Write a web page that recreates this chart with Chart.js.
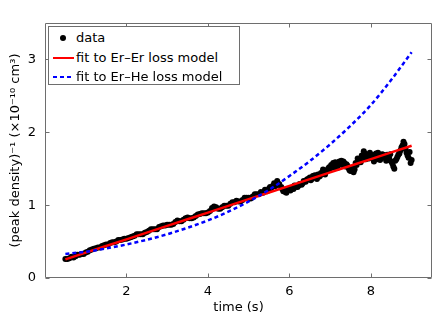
<!DOCTYPE html>
<html>
<head>
<meta charset="utf-8">
<script src="https://cdn.jsdelivr.net/npm/chart.js@4.4.0/dist/chart.umd.min.js"></script>
<style>
  html, body { margin: 0; padding: 0; background: #fff; }
  #wrap { position: relative; width: 436px; height: 315px; }
  #legend {
    position: absolute; left: 48px; top: 26px; width: 190px; height: 57px;
    border: 1px solid #6e6e6e; background: #fff;
    font: 13px "DejaVu Sans", sans-serif; color: #000;
  }
  .row { position: absolute; left: 0; width: 100%; height: 20px; line-height: 20px; }
  .lbl { position: absolute; left: 27px; white-space: nowrap; }
  .sample { position: absolute; left: 4px; width: 21px; top: 9px; height: 2px; }
  .dot { position: absolute; left: 11px; top: 7px; width: 6px; height: 6px; border-radius: 50%; background: #000; }
</style>
</head>
<body>
<div id="wrap">
  <canvas id="chart" width="436" height="315"></canvas>
  <div id="legend">
    <div class="row" style="top:1px"><span class="dot"></span><span class="lbl">data</span></div>
    <div class="row" style="top:21px"><span class="sample" style="background:#ff0000"></span><span class="lbl">fit to Er–Er loss model</span></div>
    <div class="row" style="top:40px"><span class="sample" style="background:repeating-linear-gradient(to right,#0000ff 0 4px,transparent 4px 7px)"></span><span class="lbl">fit to Er–He loss model</span></div>
  </div>
</div>
<script>
// measured points: time (s) and inverse peak density (1e-10 cm^3)
const dataTime = [
  0.50, 0.55, 0.60, 0.65, 0.70, 0.75, 0.80, 0.85, 0.90, 0.95,
  1.00, 1.05, 1.10, 1.15, 1.20, 1.25, 1.30, 1.35, 1.40, 1.45,
  1.50, 1.55, 1.60, 1.65, 1.70, 1.75, 1.80, 1.85, 1.90, 1.95,
  2.00, 2.05, 2.10, 2.15, 2.20, 2.25, 2.30, 2.35, 2.40, 2.45,
  2.50, 2.55, 2.60, 2.65, 2.70, 2.75, 2.80, 2.85, 2.90, 2.95,
  3.00, 3.05, 3.10, 3.15, 3.20, 3.25, 3.30, 3.35, 3.40, 3.45,
  3.50, 3.55, 3.60, 3.65, 3.70, 3.75, 3.80, 3.85, 3.90, 3.95,
  4.00, 4.05, 4.10, 4.15, 4.20, 4.25, 4.30, 4.35, 4.40, 4.45,
  4.50, 4.55, 4.60, 4.65, 4.70, 4.75, 4.80, 4.85, 4.90, 4.95,
  5.00, 5.05, 5.10, 5.15, 5.20, 5.25, 5.30, 5.35, 5.40, 5.45,
  5.50, 5.55, 5.60, 5.65, 5.70, 5.75, 5.80, 5.85, 5.90, 5.95,
  6.00, 6.05, 6.10, 6.15, 6.20, 6.25, 6.30, 6.35, 6.40, 6.45,
  6.50, 6.55, 6.60, 6.65, 6.70, 6.75, 6.80, 6.85, 6.90, 6.95,
  7.00, 7.05, 7.10, 7.15, 7.20, 7.25, 7.30, 7.35, 7.40, 7.45,
  7.50, 7.55, 7.60, 7.65, 7.70, 7.75, 7.80, 7.85, 7.90, 7.95,
  8.00, 8.05, 8.10, 8.15, 8.20, 8.25, 8.30, 8.35, 8.40, 8.45,
  8.50, 8.55, 8.60, 8.65, 8.70, 8.75, 8.80, 8.85, 8.90, 8.95,
  9.00,
  5.525, 5.625, 5.725, 5.825, 5.925, 6.025, 6.125, 6.225, 6.325, 6.425,
  6.525, 6.625, 6.725, 6.825, 6.925, 7.025, 7.125, 7.225, 7.325, 7.425,
  7.525, 7.625, 7.725, 7.825, 7.925, 8.025, 8.125, 8.225, 8.325, 8.425,
  8.525, 8.625, 8.725, 8.825, 8.925,
  6.575, 6.675, 6.775, 6.875, 6.975, 7.075, 7.175, 7.275, 7.375, 7.475,
  7.575, 7.675, 7.775, 7.875, 7.975, 8.075, 8.175, 8.275, 8.375, 8.475,
  8.575, 8.675, 8.775, 8.875, 8.975
];
const dataValue = [
  0.26, 0.26, 0.27, 0.29, 0.28, 0.30, 0.32, 0.32, 0.33, 0.33,
  0.35, 0.36, 0.38, 0.39, 0.40, 0.41, 0.42, 0.42, 0.44, 0.45,
  0.46, 0.46, 0.48, 0.49, 0.49, 0.50, 0.52, 0.52, 0.53, 0.54,
  0.54, 0.55, 0.56, 0.57, 0.58, 0.60, 0.60, 0.60, 0.60, 0.62,
  0.63, 0.65, 0.67, 0.67, 0.67, 0.67, 0.70, 0.71, 0.72, 0.72,
  0.73, 0.73, 0.73, 0.74, 0.77, 0.79, 0.78, 0.78, 0.80, 0.82,
  0.83, 0.82, 0.82, 0.83, 0.85, 0.87, 0.88, 0.89, 0.89, 0.89,
  0.90, 0.92, 0.96, 0.98, 0.97, 0.95, 0.95, 0.97, 0.99, 0.99,
  0.99, 1.02, 1.04, 1.04, 1.06, 1.05, 1.05, 1.07, 1.10, 1.10,
  1.10, 1.09, 1.12, 1.15, 1.15, 1.15, 1.18, 1.17, 1.21, 1.19,
  1.23, 1.23, 1.27, 1.26, 1.33, 1.29, 1.25, 1.19, 1.18, 1.22,
  1.21, 1.24, 1.22, 1.25, 1.25, 1.29, 1.28, 1.33, 1.32, 1.36,
  1.38, 1.36, 1.40, 1.38, 1.42, 1.40, 1.43, 1.47, 1.46, 1.50,
  1.50, 1.53, 1.52, 1.56, 1.55, 1.57, 1.55, 1.58, 1.56, 1.51,
  1.47, 1.51, 1.49, 1.55, 1.61, 1.59, 1.66, 1.71, 1.66, 1.64,
  1.69, 1.64, 1.69, 1.63, 1.68, 1.64, 1.69, 1.65, 1.69, 1.64,
  1.60, 1.53, 1.61, 1.66, 1.71, 1.79, 1.87, 1.77, 1.68, 1.73,
  1.62,
  1.25, 1.30, 1.28, 1.22, 1.17, 1.20, 1.27, 1.27, 1.30, 1.35,
  1.34, 1.41, 1.39, 1.49, 1.48, 1.55, 1.59, 1.60, 1.60, 1.54,
  1.50, 1.58, 1.63, 1.74, 1.69, 1.66, 1.71, 1.62, 1.67, 1.62,
  1.57, 1.63, 1.75, 1.84, 1.65,
  1.40, 1.36, 1.44, 1.42, 1.52, 1.58, 1.51, 1.61, 1.53, 1.48,
  1.45, 1.64, 1.68, 1.63, 1.72, 1.60, 1.72, 1.70, 1.61, 1.70,
  1.50, 1.69, 1.82, 1.72, 1.58
];

// fitted curves
const fitTime = [0.5, 1.0, 1.5, 2.0, 2.5, 3.0, 3.5, 4.0, 4.5, 5.0, 5.5, 6.0, 6.5, 7.0, 7.5, 8.0, 8.5, 9.0];
const erErFit = [0.256, 0.348, 0.439, 0.531, 0.623, 0.715, 0.806, 0.898, 0.990, 1.082, 1.173, 1.265, 1.357, 1.449, 1.540, 1.632, 1.724, 1.816];
const erHeFit = [0.330, 0.360, 0.405, 0.460, 0.525, 0.600, 0.690, 0.790, 0.910, 1.050, 1.210, 1.400, 1.605, 1.835, 2.090, 2.375, 2.720, 3.100];

const xTicks = [2, 4, 6, 8];
const yTicks = [0, 1, 2, 3];

const font = { family: "'DejaVu Sans', sans-serif", size: 13 };

const pts = (xs, ys) => xs.map((x, i) => ({ x: x, y: ys[i] }));

// MATLAB style box with inward tick marks on all four sides
const frame = {
  id: 'frame',
  afterDatasetsDraw(chart) {
    const { ctx, chartArea: a, scales: { x, y } } = chart;
    const l = Math.round(a.left) + 0.5, r = Math.round(a.right) - 0.5;
    const t = Math.round(a.top) + 0.5, b = Math.round(a.bottom) - 0.5;
    const len = 4;
    ctx.save();
    ctx.strokeStyle = '#6e6e6e';
    ctx.lineWidth = 1;
    ctx.beginPath();
    ctx.rect(l, t, r - l, b - t);
    xTicks.forEach(v => {
      const px = Math.round(x.getPixelForValue(v)) + 0.5;
      ctx.moveTo(px, b); ctx.lineTo(px, b - len);
      ctx.moveTo(px, t); ctx.lineTo(px, t + len);
    });
    yTicks.forEach(v => {
      const py = Math.round(y.getPixelForValue(v)) + 0.5;
      ctx.moveTo(l, py); ctx.lineTo(l + len, py);
      ctx.moveTo(r, py); ctx.lineTo(r - len, py);
    });
    ctx.stroke();
    ctx.restore();
  }
};

new Chart(document.getElementById('chart'), {
  type: 'scatter',
  data: {
    datasets: [
      {
        label: 'data',
        data: pts(dataTime, dataValue),
        backgroundColor: '#000',
        borderColor: '#000',
        pointRadius: 3,
        pointBorderWidth: 0,
        order: 3
      },
      {
        label: 'fit to Er–Er loss model',
        data: pts(fitTime, erErFit),
        showLine: true,
        borderColor: '#ff0000',
        borderWidth: 2.5,
        pointRadius: 0,
        order: 2
      },
      {
        label: 'fit to Er–He loss model',
        data: pts(fitTime, erHeFit),
        showLine: true,
        borderColor: '#0000ff',
        borderWidth: 2.5,
        borderDash: [4, 3],
        cubicInterpolationMode: 'monotone',
        pointRadius: 0,
        order: 1
      }
    ]
  },
  options: {
    responsive: false,
    animation: false,
    layout: { padding: { top: 23, right: 1, left: 0, bottom: 0 } },
    plugins: {
      legend: { display: false },
      tooltip: { enabled: false }
    },
    scales: {
      x: {
        type: 'linear',
        min: 0,
        max: 9.5,
        afterBuildTicks: s => { s.ticks = xTicks.map(v => ({ value: v })); },
        afterFit: s => { s.height = 37; },
        grid: { display: false, drawTicks: false },
        border: { display: false },
        ticks: { color: '#000', font: font, padding: 6 },
        title: { display: true, text: 'time (s)', color: '#000', font: font, padding: { top: 0, bottom: 0 } }
      },
      y: {
        type: 'linear',
        min: 0,
        max: 3.5,
        afterBuildTicks: s => { s.ticks = yTicks.map(v => ({ value: v })); },
        afterFit: s => { s.width = 45; },
        grid: { display: false, drawTicks: false },
        border: { display: false },
        ticks: { color: '#000', font: font, padding: 9 },
        title: { display: true, text: '(peak density)⁻¹ (×10⁻¹⁰ cm³)', color: '#000', font: font, padding: { top: 8, bottom: 0 } }
      }
    }
  },
  plugins: [frame]
});
</script>
</body>
</html>
